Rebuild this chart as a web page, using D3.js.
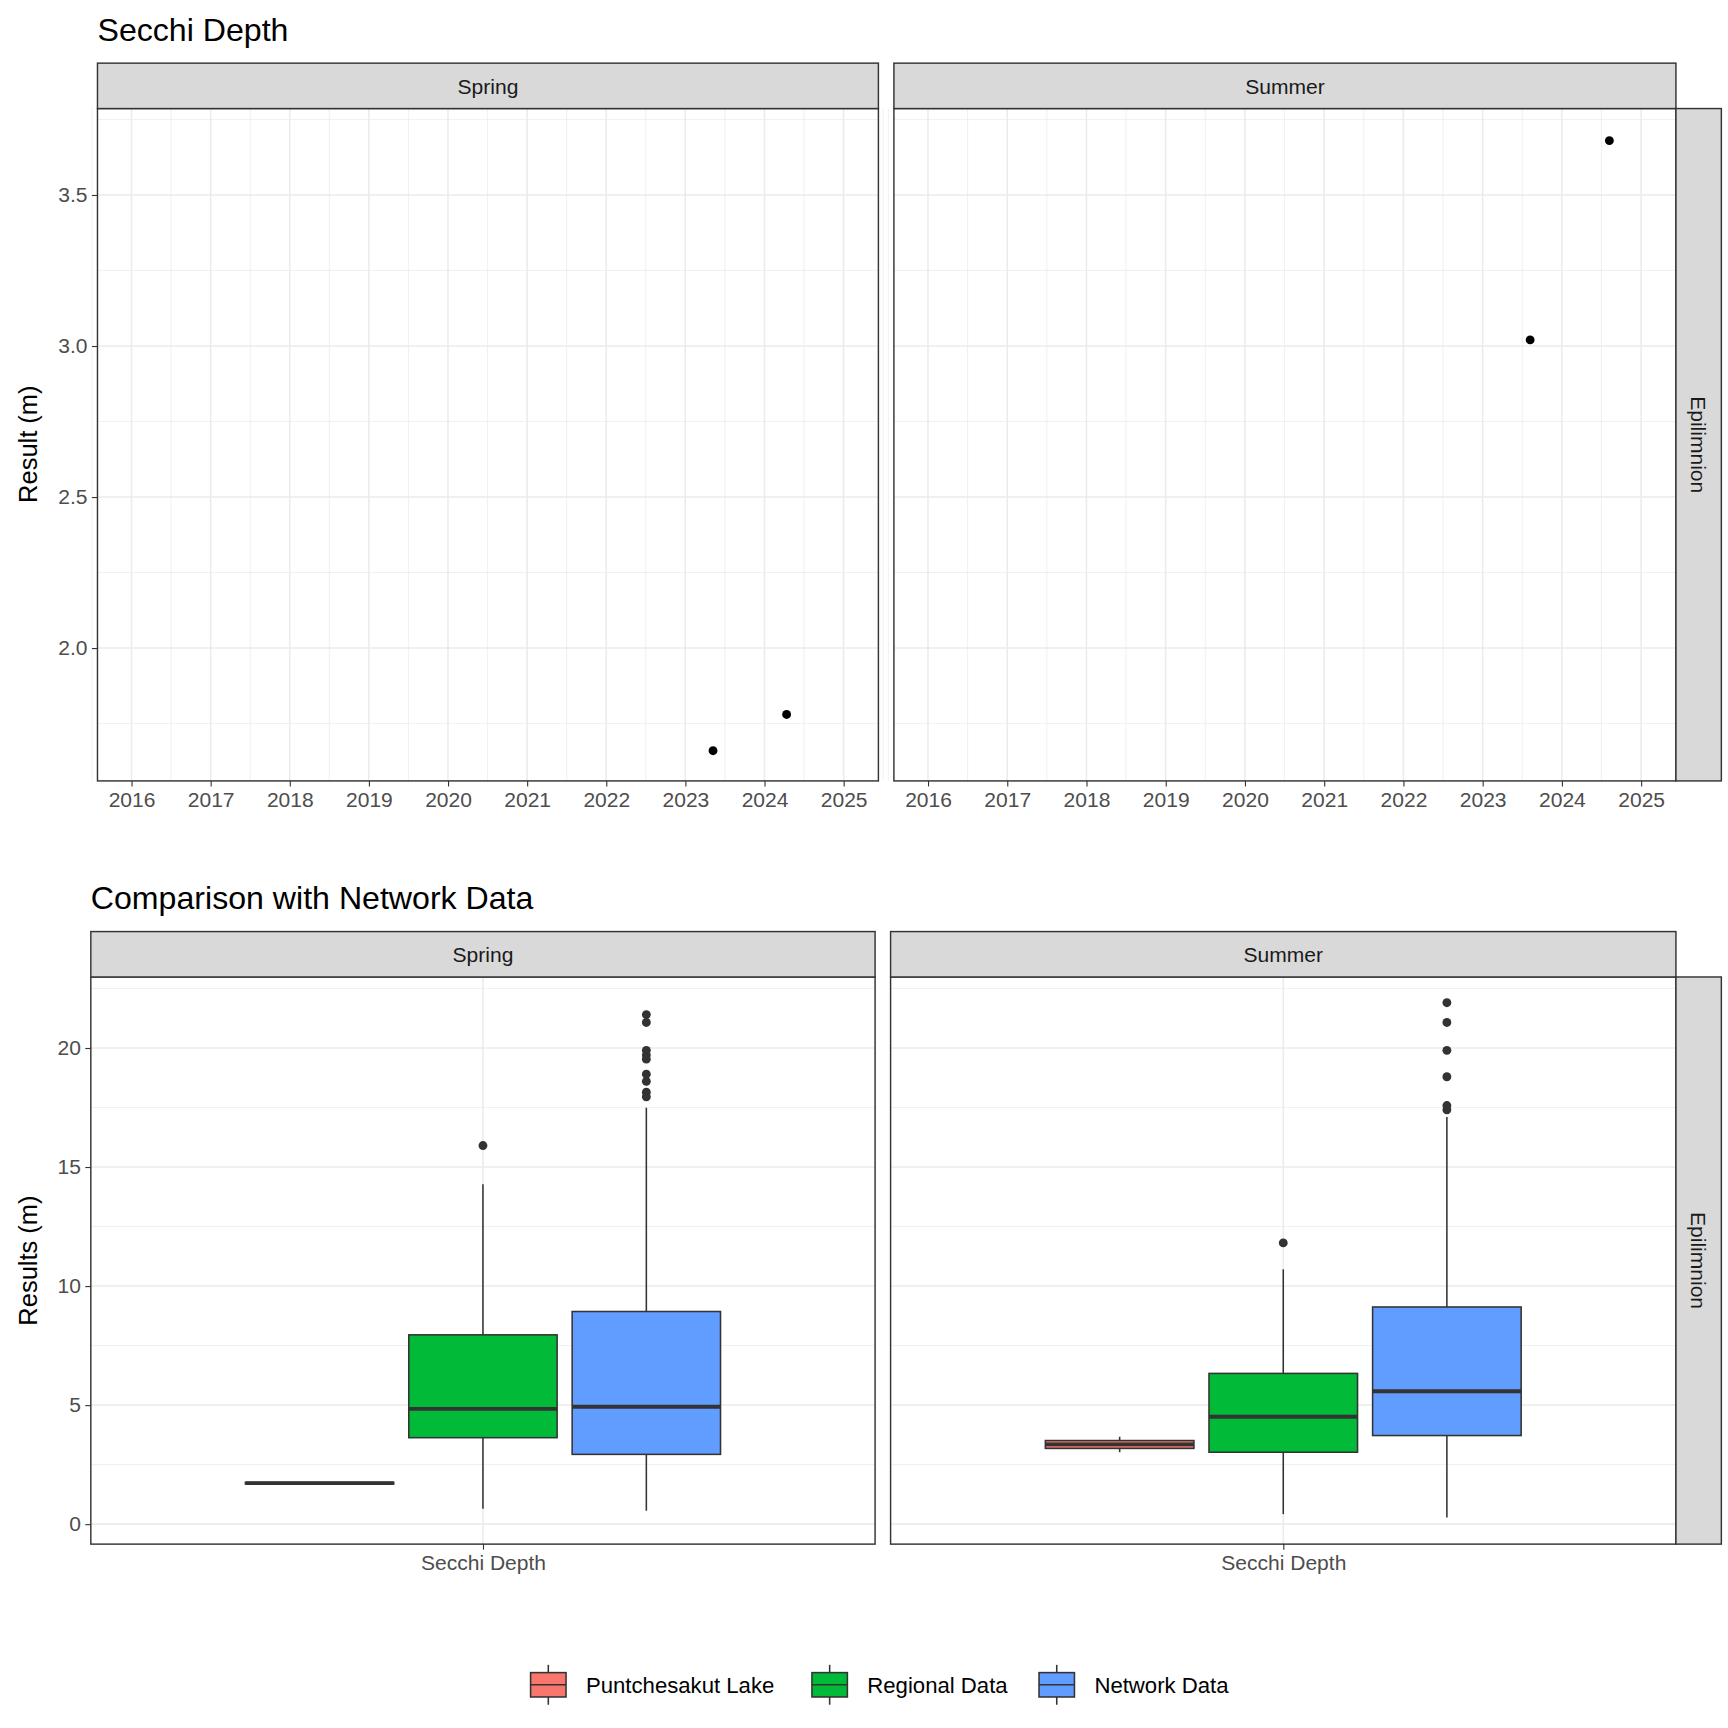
<!DOCTYPE html>
<html>
<head>
<meta charset="utf-8">
<script src="https://cdn.jsdelivr.net/npm/d3@7"></script>
<style>
  body { margin: 0; background: #fff; }
  text { font-family: "Liberation Sans", Arial, sans-serif; }
</style>
</head>
<body>
<svg id="chart" width="1728" height="1728" viewBox="0 0 1560 1560"></svg>
<script>
// top chart: secchi depth by year
const seasons = ['Spring', 'Summer'];
const years = [2016, 2017, 2018, 2019, 2020, 2021, 2022, 2023, 2024, 2025];
const springPoints = [[2023.35, 1.66], [2024.28, 1.78]];
const summerPoints = [[2023.6, 3.02], [2024.6, 3.68]];
const depthTicks = [2.0, 2.5, 3.0, 3.5];

// bottom chart: boxplot stats [min, q1, median, q3, max]
const groups = ['Puntchesakut Lake', 'Regional Data', 'Network Data'];
const groupColors = ['#F8766D', '#00BA38', '#619CFF'];
const springStats = [[1.66, 1.69, 1.72, 1.75, 1.78], [0.65, 3.63, 4.84, 7.95, 14.28], [0.56, 2.93, 4.93, 8.93, 17.49]];
const summerStats = [[3.02, 3.18, 3.35, 3.51, 3.67], [0.42, 3.02, 4.51, 6.33, 10.7], [0.28, 3.72, 5.58, 9.12, 17.1]];
const springOutliers = [[], [15.9], [21.4, 21.07, 19.9, 19.7, 19.53, 18.9, 18.6, 18.14, 17.95]];
const summerOutliers = [[], [11.81], [21.9, 21.07, 19.9, 18.79, 17.58, 17.4]];
const resultTicks = [0, 5, 10, 15, 20];

const svg = d3.select('#chart');
const grey = '#333333';

function strip(x, y, w, h, label, vertical) {
    svg.append('rect').attr('x', x).attr('y', y).attr('width', w).attr('height', h)
        .attr('fill', '#d9d9d9').attr('stroke', grey).attr('stroke-width', 1.3);
    let t = svg.append('text').attr('font-size', 19).attr('fill', '#1a1a1a')
        .attr('text-anchor', 'middle');
    if (vertical) {
        t.attr('transform', `translate(${x + w / 2 - 7},${y + h / 2}) rotate(90)`).text(label);
    } else {
        t.attr('x', x + w / 2).attr('y', y + h / 2 + 7).text(label);
    }
}

function frame(x0, x1, y0, y1) {
    svg.append('rect').attr('x', x0).attr('y', y0).attr('width', x1 - x0).attr('height', y1 - y0)
        .attr('fill', 'none').attr('stroke', grey).attr('stroke-width', 1.3);
}

function gridY(y, x0, x1, ticks, minor) {
    minor.forEach(v => svg.append('line').attr('x1', x0).attr('x2', x1).attr('y1', y(v)).attr('y2', y(v))
        .attr('stroke', '#ebebeb').attr('stroke-width', 0.7));
    ticks.forEach(v => svg.append('line').attr('x1', x0).attr('x2', x1).attr('y1', y(v)).attr('y2', y(v))
        .attr('stroke', '#ebebeb').attr('stroke-width', 1.4));
}

function yAxis(y, x0, ticks, fmt) {
    let g = svg.append('g').attr('transform', `translate(${x0},0)`)
        .call(d3.axisLeft(y).tickValues(ticks).tickFormat(fmt).tickSize(5).tickPadding(4));
    g.select('.domain').remove();
    g.selectAll('line').attr('stroke', grey);
    g.selectAll('text').attr('font-size', 19).attr('fill', '#4d4d4d')
        .attr('font-family', '"Liberation Sans", Arial, sans-serif');
}

// ---- top chart ----
svg.append('text').attr('x', 88).attr('y', 37).attr('font-size', 29).text('Secchi Depth');
const yTop = d3.scaleLinear().domain([1.56, 3.786]).range([705, 98]);
const topPanels = [[88, 793, springPoints], [807, 1513, summerPoints]];
topPanels.forEach(([x0, x1, pts], i) => {
    let x = d3.scaleLinear().domain([2015.57, 2025.44]).range([x0, x1]);
    gridY(yTop, x0, x1, depthTicks, [1.75, 2.25, 2.75, 3.25, 3.75]);
    years.forEach(v => {
        svg.append('line').attr('x1', x(v + 0.5)).attr('x2', x(v + 0.5)).attr('y1', 98).attr('y2', 705)
            .attr('stroke', '#ebebeb').attr('stroke-width', 0.7);
        svg.append('line').attr('x1', x(v)).attr('x2', x(v)).attr('y1', 98).attr('y2', 705)
            .attr('stroke', '#ebebeb').attr('stroke-width', 1.4);
    });
    svg.append('line').attr('x1', x(2015.5)).attr('x2', x(2015.5)).attr('y1', 98).attr('y2', 705)
        .attr('stroke', '#ebebeb').attr('stroke-width', 0.7);
    svg.selectAll(null).data(pts).enter().append('circle')
        .attr('cx', d => x(d[0])).attr('cy', d => yTop(d[1])).attr('r', 4).attr('fill', '#000');
    frame(x0, x1, 98, 705);
    let g = svg.append('g').attr('transform', 'translate(0,705)')
        .call(d3.axisBottom(x).tickValues(years).tickFormat(d3.format('d')).tickSize(5).tickPadding(5));
    g.select('.domain').remove();
    g.selectAll('line').attr('stroke', grey);
    g.selectAll('text').attr('font-size', 19).attr('fill', '#4d4d4d')
        .attr('font-family', '"Liberation Sans", Arial, sans-serif');
    strip(x0, 57, x1 - x0, 41, seasons[i]);
});
strip(1513, 98, 41, 607, 'Epilimnion', true);
yAxis(yTop, 88, depthTicks, d3.format('.1f'));
svg.append('text').attr('transform', 'translate(33,401) rotate(-90)').attr('text-anchor', 'middle')
    .attr('font-size', 23).text('Result (m)');

// ---- bottom chart ----
svg.append('text').attr('x', 82).attr('y', 821).attr('font-size', 29).text('Comparison with Network Data');
const yBot = d3.scaleLinear().domain([-0.84, 22.98]).range([1394, 882]);
const botPanels = [[82, 790, springStats, springOutliers], [804, 1513, summerStats, summerOutliers]];
botPanels.forEach(([x0, x1, stats, outs], i) => {
    let x = d3.scaleLinear().domain([0.4, 1.6]).range([x0, x1]);
    gridY(yBot, x0, x1, resultTicks, [2.5, 7.5, 12.5, 17.5, 22.5]);
    svg.append('line').attr('x1', x(1)).attr('x2', x(1)).attr('y1', 882).attr('y2', 1394)
        .attr('stroke', '#ebebeb').attr('stroke-width', 1.4);
    stats.forEach((s, j) => {
        let c = x(1 + (j - 1) * 0.25);
        let hw = (x(1.1135) - x(1));
        svg.append('line').attr('x1', c).attr('x2', c).attr('y1', yBot(s[0])).attr('y2', yBot(s[4]))
            .attr('stroke', grey).attr('stroke-width', 1.4);
        svg.append('rect').attr('x', c - hw).attr('width', 2 * hw)
            .attr('y', yBot(s[3])).attr('height', Math.max(yBot(s[1]) - yBot(s[3]), 0.5))
            .attr('fill', groupColors[j]).attr('stroke', grey).attr('stroke-width', 1.4);
        svg.append('line').attr('x1', c - hw).attr('x2', c + hw).attr('y1', yBot(s[2])).attr('y2', yBot(s[2]))
            .attr('stroke', grey).attr('stroke-width', 3.5);
        svg.selectAll(null).data(outs[j]).enter().append('circle')
            .attr('cx', c).attr('cy', d => yBot(d)).attr('r', 4).attr('fill', grey);
    });
    frame(x0, x1, 882, 1394);
    let g = svg.append('g').attr('transform', 'translate(0,1394)')
        .call(d3.axisBottom(x).tickValues([1]).tickFormat(() => 'Secchi Depth').tickSize(5).tickPadding(5));
    g.select('.domain').remove();
    g.selectAll('line').attr('stroke', grey);
    g.selectAll('text').attr('font-size', 19).attr('fill', '#4d4d4d')
        .attr('font-family', '"Liberation Sans", Arial, sans-serif');
    strip(x0, 841, x1 - x0, 41, seasons[i]);
});
strip(1513, 882, 41, 512, 'Epilimnion', true);
yAxis(yBot, 82, resultTicks, d3.format('d'));
svg.append('text').attr('transform', 'translate(33,1138) rotate(-90)').attr('text-anchor', 'middle')
    .attr('font-size', 23).text('Results (m)');

// ---- legend ----
const legendX = [479, 733, 938];
groups.forEach((name, j) => {
    let lx = legendX[j], cy = 1521;
    svg.append('line').attr('x1', lx + 16).attr('x2', lx + 16).attr('y1', cy - 18).attr('y2', cy + 18)
        .attr('stroke', grey).attr('stroke-width', 1.4);
    svg.append('rect').attr('x', lx).attr('y', cy - 11).attr('width', 32).attr('height', 22)
        .attr('fill', groupColors[j]).attr('stroke', grey).attr('stroke-width', 1.4);
    svg.append('line').attr('x1', lx).attr('x2', lx + 32).attr('y1', cy).attr('y2', cy)
        .attr('stroke', grey).attr('stroke-width', 1.4);
    svg.append('text').attr('x', lx + 50).attr('y', cy + 7).attr('font-size', 20).text(name);
});
</script>
</body>
</html>
